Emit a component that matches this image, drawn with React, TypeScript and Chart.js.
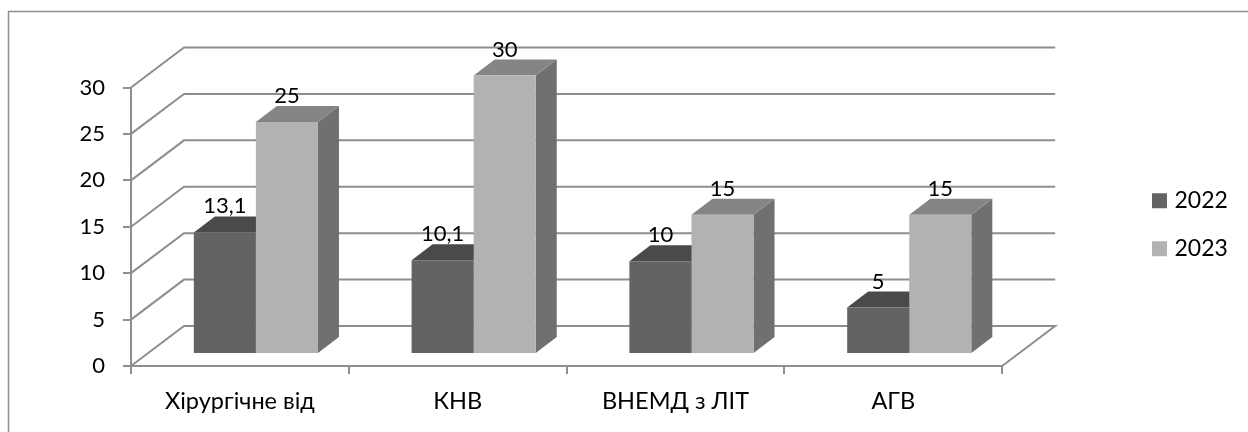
import React, { useEffect, useRef } from "react";
import { Chart, registerables } from "chart.js";

Chart.register(...registerables);

const categories = ["Хірургічне від", "КНВ", "ВНЕМД з ЛІТ", "АГВ"];
const seriesNames = ["2022", "2023"];
const values2022 = [13.1, 10.1, 10, 5];
const values2023 = [25, 30, 15, 15];
const valueLabels = [
  ["13,1", "10,1", "10", "5"],
  ["25", "30", "15", "15"],
];

const FRONT_COLORS = ["#636363", "#b2b2b2"];
const TOP_COLORS = ["#4a4a4a", "#858585"];
const SIDE_COLORS = ["#4a4a4a", "#707070"];
const LINE = "#8e8e8e";
const FONT = "Lato, 'Open Sans', sans-serif";
const DIGIT_SIZE = 22;
const LEGEND_SIZE = 23;
const CATEGORY_SIZE = 23.5;

// Oblique projection: the wall sits behind the axis plane, the columns inside it.
const WALL_DX = 53;
const WALL_DY = 40;
const COL_INSET_X = 16;
const COL_INSET_Y = 12;
const COL_DX = 21;
const COL_DY = 16;

const box3d = {
  id: "box3d",
  afterLayout(chart: any) {
    // The legend keeps its own drawing; only its place in the free right margin changes.
    const legend = chart.legend;
    legend.left = 1131;
    legend.right = 1248;
    legend.top -= 35;
    legend.bottom -= 35;
  },
  beforeDatasetsDraw(chart: any) {
    const { ctx, scales } = chart;
    const { x, y } = scales;
    const l = x.left;
    const r = x.right;

    ctx.save();
    ctx.strokeStyle = LINE;
    ctx.lineWidth = 2;
    y.ticks.forEach((t: any) => {
      const py = y.getPixelForValue(t.value);
      ctx.beginPath();
      ctx.moveTo(l, py);
      ctx.lineTo(l + WALL_DX, py - WALL_DY);
      ctx.lineTo(r + WALL_DX, py - WALL_DY);
      if (t.value === 0) {
        ctx.lineTo(r, py);
      }
      ctx.stroke();
    });
    ctx.restore();

    // Depth faces first; the library's bars then paint the front faces over them.
    const metas = chart.getSortedVisibleDatasetMetas().slice();
    metas.sort((a: any, b: any) => a.index - b.index);
    metas.forEach((meta: any) => {
      meta.data.forEach((bar: any) => {
        const half = bar.width / 2;
        const x0 = bar.x - half + COL_INSET_X;
        const x1 = bar.x + half + COL_INSET_X;
        const top = bar.y - COL_INSET_Y;
        const base = bar.base - COL_INSET_Y;
        ctx.fillStyle = SIDE_COLORS[meta.index];
        ctx.beginPath();
        ctx.moveTo(x1, top);
        ctx.lineTo(x1 + COL_DX, top - COL_DY);
        ctx.lineTo(x1 + COL_DX, base - COL_DY);
        ctx.lineTo(x1, base);
        ctx.closePath();
        ctx.fill();
        ctx.fillStyle = TOP_COLORS[meta.index];
        ctx.beginPath();
        ctx.moveTo(x0, top);
        ctx.lineTo(x0 + COL_DX, top - COL_DY);
        ctx.lineTo(x1 + COL_DX, top - COL_DY);
        ctx.lineTo(x1, top);
        ctx.closePath();
        ctx.fill();
      });
    });

    ctx.save();
    ctx.translate(COL_INSET_X, -COL_INSET_Y);
  },
  afterDatasetsDraw(chart: any) {
    const { ctx } = chart;
    ctx.restore();
    ctx.save();
    ctx.fillStyle = "#000";
    ctx.font = `${DIGIT_SIZE}px ${FONT}`;
    ctx.textAlign = "center";
    ctx.textBaseline = "middle";
    chart.getSortedVisibleDatasetMetas().forEach((meta: any) => {
      meta.data.forEach((bar: any, i: number) => {
        ctx.fillText(
          valueLabels[meta.index][i],
          bar.x + COL_INSET_X,
          bar.y - COL_INSET_Y - COL_DY - 10
        );
      });
    });
    ctx.restore();
  },
};

const frame = {
  id: "frame",
  beforeDraw(chart: any) {
    const { ctx } = chart;
    ctx.save();
    ctx.strokeStyle = LINE;
    ctx.lineWidth = 1.5;
    ctx.strokeRect(8.5, 11.5, 1300, 450);
    ctx.restore();
  },
};

export default function App() {
  const canvasRef = useRef<HTMLCanvasElement>(null);

  useEffect(() => {
    const chart = new Chart(canvasRef.current as HTMLCanvasElement, {
      type: "bar",
      data: {
        labels: categories,
        datasets: [values2022, values2023].map((data, i) => ({
          label: seriesNames[i],
          data,
          backgroundColor: FRONT_COLORS[i],
          categoryPercentage: 0.57,
          barPercentage: 1,
        })),
      },
      options: {
        animation: false,
        responsive: false,
        layout: { padding: { top: 87.5, right: 139, left: 0, bottom: 0 } },
        scales: {
          x: {
            afterFit: (s: any) => {
              s.height = 66;
            },
            grid: { drawOnChartArea: false, color: LINE, lineWidth: 2, tickLength: 8 },
            border: { color: LINE, width: 2 },
            ticks: { color: "#000", font: { family: FONT, size: CATEGORY_SIZE }, padding: 13, maxRotation: 0 },
          },
          y: {
            min: 0,
            max: 30,
            afterFit: (s: any) => {
              s.width = 131;
            },
            grid: { drawOnChartArea: false, color: LINE, lineWidth: 2, tickLength: 8 },
            border: { color: LINE, width: 2 },
            ticks: { color: "#000", font: { family: FONT, size: DIGIT_SIZE }, padding: 18, stepSize: 5 },
          },
        },
        plugins: {
          tooltip: { enabled: false },
          legend: {
            position: "right",
            labels: {
              color: "#000",
              font: { family: FONT, size: LEGEND_SIZE },
              boxWidth: 7,
              boxHeight: 7,
              padding: 25,
              // A thick same-colour outline keeps the swatch square close to its label.
              generateLabels: (c: any) =>
                Chart.defaults.plugins.legend.labels.generateLabels(c).map((item: any) => ({
                  ...item,
                  strokeStyle: item.fillStyle,
                  lineWidth: 8,
                })),
            },
          },
        },
      },
      plugins: [frame, box3d],
    });
    return () => chart.destroy();
  }, []);

  return (
    <div style={{ position: "absolute", left: 0, top: 0 }}>
      <canvas ref={canvasRef} width={1248} height={432} style={{ display: "block" }} />
    </div>
  );
}
